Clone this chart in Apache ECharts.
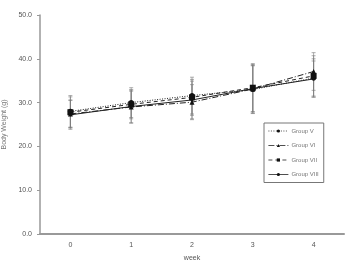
<!DOCTYPE html>
<html>
<head>
<meta charset="utf-8">
<script src="https://cdn.jsdelivr.net/npm/echarts@6/dist/echarts.min.js"></script>
<style>
  html, body { margin: 0; padding: 0; background: #fff; }
  #chart { width: 345px; height: 262px; }
</style>
</head>
<body>
<div id="chart"></div>
<script>
// weeks on x axis
var weeks = ['0', '1', '2', '3', '4'];

// mean body weight (g) per group
var groupV    = [28.0, 30.0, 31.6, 33.0, 35.6];
var groupVI   = [27.4, 29.0, 30.1, 33.1, 37.1];
var groupVII  = [27.8, 29.6, 31.2, 33.4, 36.1];
var groupVIII = [27.2, 29.1, 30.6, 33.2, 35.4];

// standard deviations
var sdV    = [3.6, 3.4, 4.2, 5.4, 4.4];
var sdVI   = [3.2, 3.6, 4.0, 5.6, 4.3];
var sdVII  = [3.5, 3.3, 4.1, 5.5, 4.6];
var sdVIII = [3.3, 3.8, 4.3, 5.3, 4.1];

var groupNames = ['Group V', 'Group VI', 'Group VII', 'Group VIII'];

var chart = echarts.init(document.getElementById('chart'));

function lineSeries(name, data, lineType, symbol, symbolSize){
    return {
        name: name,
        type: 'line',
        data: data,
        symbol: symbol,
        symbolSize: symbolSize,
        z: 3,
        itemStyle: { color: '#111' },
        lineStyle: { color: '#222', width: 1, type: lineType }
    };
}

function errorSeries(name, means, sds){
    var errData = means.map(function(m, i){ return [i, m - sds[i], m + sds[i]]; });
    return {
        name: name + ' err',
        type: 'custom',
        z: 2,
        data: errData,
        renderItem: function(params, api){
            var x = api.value(0);
            var lo = api.coord([x, api.value(1)]);
            var hi = api.coord([x, api.value(2)]);
            var cap = 2;
            var style = { stroke: '#777', lineWidth: 0.6 };
            return {
                type: 'group',
                children: [
                    { type: 'line', shape: { x1: hi[0], y1: hi[1], x2: lo[0], y2: lo[1] }, style: style },
                    { type: 'line', shape: { x1: hi[0] - cap, y1: hi[1], x2: hi[0] + cap, y2: hi[1] }, style: style },
                    { type: 'line', shape: { x1: lo[0] - cap, y1: lo[1], x2: lo[0] + cap, y2: lo[1] }, style: style }
                ]
            };
        }
    };
}

var axisText = { color: '#555', fontSize: 7, fontFamily: 'Liberation Sans' };

chart.setOption({
    animation: false,
    grid: { left: 40, right: 1, top: 15, bottom: 28, outerBoundsMode: 'none' },
    legend: {
        data: groupNames,
        orient: 'vertical',
        left: 264,
        top: 123,
        width: 58,
        itemWidth: 20,
        itemHeight: 4,
        itemGap: 8.5,
        padding: [5, 5, 5, 4],
        borderColor: '#777',
        borderWidth: 1,
        lineStyle: { width: 0.8 },
        itemStyle: { borderWidth: 0 },
        textStyle: { fontSize: 6, color: '#777', fontFamily: 'Liberation Sans', padding: [0, 0, 0, -2] }
    },
    xAxis: {
        type: 'category',
        data: weeks,
        boundaryGap: true,
        name: 'week',
        nameLocation: 'middle',
        nameGap: 21,
        nameTextStyle: axisText,
        axisLine: { lineStyle: { color: '#999', width: 2 } },
        axisTick: { show: false },
        axisLabel: Object.assign({ margin: 8 }, axisText)
    },
    yAxis: {
        type: 'value',
        min: 0,
        max: 50,
        interval: 10,
        name: 'Body Weight (g)',
        nameLocation: 'middle',
        nameGap: 27,
        nameTextStyle: { color: '#777', fontSize: 7, fontFamily: 'Liberation Sans' },
        splitLine: { show: false },
        axisLine: { show: true, lineStyle: { color: '#999', width: 1.5 } },
        axisTick: { show: true, length: 3, lineStyle: { color: '#999' } },
        axisLabel: Object.assign({ margin: 8, formatter: function(v){ return v.toFixed(1); } }, axisText)
    },
    series: [
        errorSeries('Group V', groupV, sdV),
        errorSeries('Group VI', groupVI, sdVI),
        errorSeries('Group VII', groupVII, sdVII),
        errorSeries('Group VIII', groupVIII, sdVIII),
        lineSeries('Group V', groupV, [1, 1.5], 'circle', 5),
        lineSeries('Group VI', groupVI, [6, 2, 1, 2], 'triangle', 5),
        lineSeries('Group VII', groupVII, [4, 3], 'rect', 6),
        lineSeries('Group VIII', groupVIII, 'solid', 'circle', 3)
    ]
});
</script>
</body>
</html>
